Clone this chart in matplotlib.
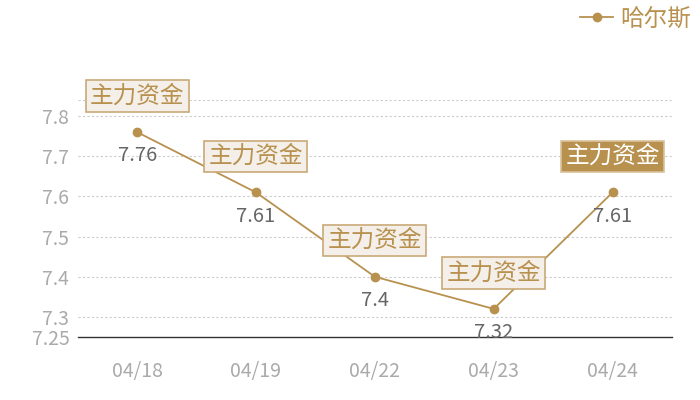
import matplotlib.pyplot as plt

plt.rcParams['font.family'] = ['Noto Sans CJK SC', 'DejaVu Sans']

dates = ["04/18", "04/19", "04/22", "04/23", "04/24"]
prices = [7.76, 7.61, 7.4, 7.32, 7.61]
series_name = "哈尔斯"
tag_text = "主力资金"
highlight_idx = 4
yticks = [7.25, 7.3, 7.4, 7.5, 7.6, 7.7, 7.8]

gold = "#B8914F"

fig = plt.figure(figsize=(7, 4), dpi=100)
ax = fig.add_axes([0.111, 0.1575, 0.849, 0.5925])

x = list(range(len(dates)))
ax.plot(x, prices, "-o", color=gold, lw=1.3, ms=6, label=series_name, zorder=3)

ax.set_xlim(-0.5, len(dates) - 0.5)
ax.set_ylim(7.25, 7.84)
ax.set_yticks(yticks)
ax.set_yticklabels([str(v) for v in yticks])
ax.set_xticks(x)
ax.set_xticklabels(dates)
ax.tick_params(axis="both", length=0, colors="#AAAAAA", labelsize=14)
ax.tick_params(axis="x", pad=17)
ax.tick_params(axis="y", pad=6)

for v in yticks[1:] + [7.84]:
    ax.axhline(v, color="#CCCCCC", lw=0.8, ls=(0, (2, 2)), zorder=1)

for s in ["top", "right", "left"]:
    ax.spines[s].set_visible(False)
ax.spines["bottom"].set_color("#333333")
ax.spines["bottom"].set_linewidth(1)

for i, p in enumerate(prices):
    ax.annotate(str(p), (i, p), xytext=(0, -17), textcoords="offset points",
                ha="center", va="center", fontsize=14.5, color="#666666", zorder=4)
    if i == highlight_idx:
        fc, tc, ec = gold, "white", "#D9C29A"
    else:
        fc, tc, ec = "#F4EFE9", gold, "#C9A978"
    ax.annotate(tag_text, (i, p), xytext=(0, 26), textcoords="offset points",
                ha="center", va="center", fontsize=17, color=tc, zorder=5,
                bbox=dict(boxstyle="square,pad=0.18", fc=fc, ec=ec, lw=1.2))

leg = fig.legend(loc="upper right", bbox_to_anchor=(1.018, 1.035), frameon=False,
                 fontsize=17, handlelength=1.4, handletextpad=0.3)
for t in leg.get_texts():
    t.set_color(gold)

fig.savefig("out.png", dpi=100)
